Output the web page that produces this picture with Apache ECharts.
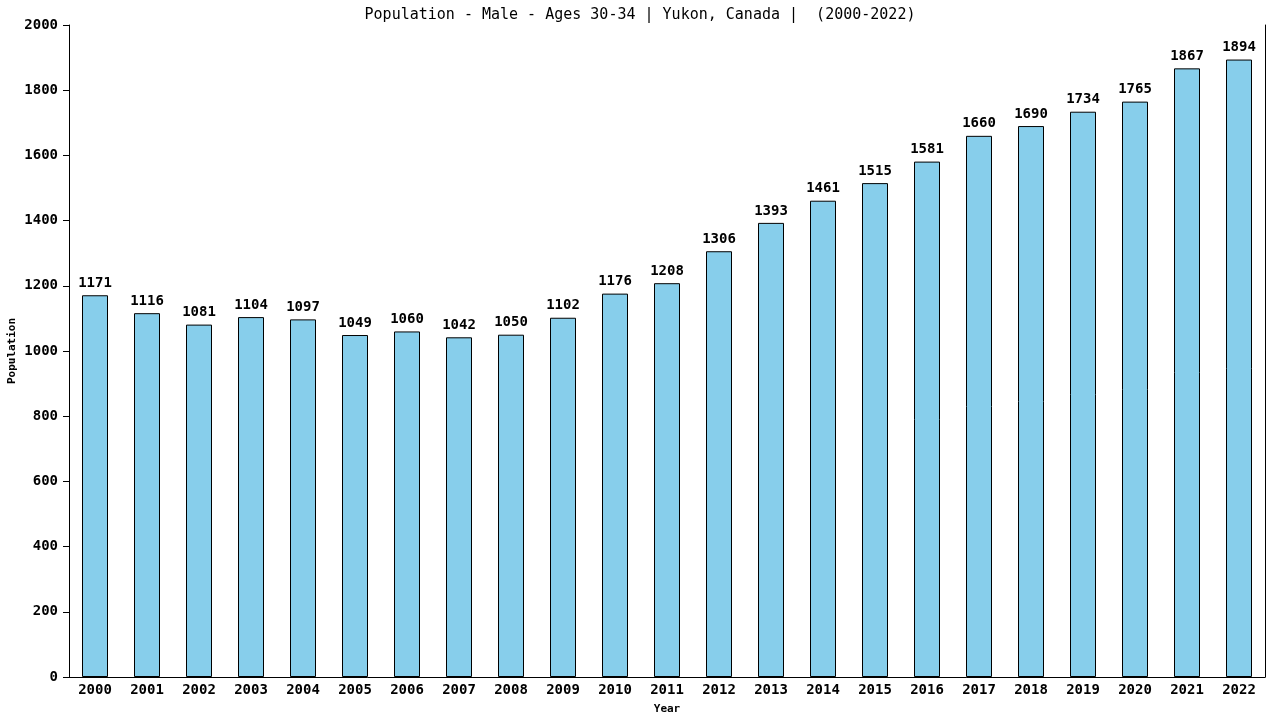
<!DOCTYPE html>
<html><head><meta charset="utf-8">
<script src="https://cdn.jsdelivr.net/npm/echarts@6/dist/echarts.min.js"></script>
<style>html,body{margin:0;padding:0;background:#fff}#c{width:1280px;height:720px}</style>
</head><body><div id="c"></div>
<script>
var years = ['2000','2001','2002','2003','2004','2005','2006','2007','2008','2009','2010','2011','2012','2013','2014','2015','2016','2017','2018','2019','2020','2021','2022'];
var population = [1171,1116,1081,1104,1097,1049,1060,1042,1050,1102,1176,1208,1306,1393,1461,1515,1581,1660,1690,1734,1765,1867,1894];
var titleText = 'Population - Male - Ages 30-34 | Yukon, Canada |  (2000-2022)';
var font = 'DejaVu Sans Mono';
var chart = echarts.init(document.getElementById('c'));
chart.setOption({
  animation:false,
  backgroundColor:'#fff',
  title:{text:titleText,left:'center',top:3,textStyle:{fontFamily:font,fontSize:15,fontWeight:'normal',color:'#000'}},
  grid:{left:69,right:15,top:25,bottom:43,containLabel:false,outerBoundsMode:'none'},
  xAxis:{type:'category',data:years,name:'Year',nameLocation:'middle',nameGap:27,nameMoveOverlap:false,
    nameTextStyle:{fontFamily:font,fontSize:11,fontWeight:'bold',color:'#000'},
    axisLine:{lineStyle:{color:'#000',width:1}},axisTick:{show:false},
    axisLabel:{fontFamily:font,fontSize:14,fontWeight:'bold',color:'#000',margin:6},splitLine:{show:false}},
  yAxis:[{type:'value',min:0,max:2000,interval:200,name:'Population',nameLocation:'middle',nameGap:51,nameMoveOverlap:false,
    nameTextStyle:{fontFamily:font,fontSize:11,fontWeight:'bold',color:'#000'},
    axisLine:{show:true,lineStyle:{color:'#000',width:1}},axisTick:{show:true,inside:false,length:6,lineStyle:{color:'#000'}},
    axisLabel:{fontFamily:font,fontSize:14,fontWeight:'bold',color:'#000',margin:11,formatter:function(v){return String(v);}},splitLine:{show:false}},
    {type:'value',min:0,max:2000,interval:200,position:'right',axisLine:{show:true,lineStyle:{color:'#000',width:1}},
    axisTick:{show:false},axisLabel:{show:false},splitLine:{show:false}}],
  series:[{type:'bar',data:population,barWidth:'50%',
    itemStyle:{color:'#87CEEB',borderColor:'#000',borderWidth:1},
    label:{show:true,position:'top',distance:5,fontFamily:font,fontSize:14,fontWeight:'bold',color:'#000'}}]
});
</script></body></html>
